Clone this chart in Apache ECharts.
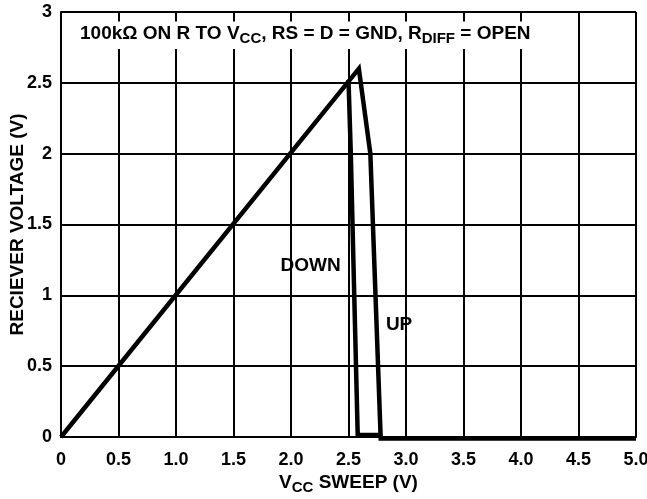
<!DOCTYPE html>
<html>
<head>
<meta charset="utf-8">
<script src="https://cdn.jsdelivr.net/npm/echarts@6/dist/echarts.min.js"></script>
<style>
html,body{margin:0;padding:0;background:#fff;}
#c{width:647px;height:499px;}
</style>
</head>
<body>
<div id="c"></div>
<script>
// Data
var upSeries = [[0, 0], [2.59, 2.6], [2.69, 2.0], [2.78, -0.01], [5.0, -0.01]];
var downSeries = [[2.5, 2.52], [2.52, 2.0], [2.55, 1.0], [2.58, 0.015], [2.78, 0.015]];
var xTickLabels = ['0', '0.5', '1.0', '1.5', '2.0', '2.5', '3.0', '3.5', '4.0', '4.5', '5.0'];
var yTickLabels = ['0', '0.5', '1', '1.5', '2', '2.5', '3'];
var annotations = [
  { text: 'DOWN', at: [2.17, 1.21] },
  { text: 'UP', at: [2.94, 0.79] }
];

var FONT = 'Liberation Sans, Arial, Helvetica, sans-serif';
var chart = echarts.init(document.getElementById('c'), null, { renderer: 'canvas' });

var lineStyle = { color: '#000', width: 4.5, join: 'miter', cap: 'butt' };

chart.setOption({
  animation: false,
  backgroundColor: '#fff',
  title: {
    left: 75,
    top: 19,
    padding: [3, 5, 3, 5],
    backgroundColor: '#fff',
    text: '{a|100kΩ ON R TO V}{s|CC}{a|, RS = D = GND, R}{s|DIFF}{a| = OPEN}',
    textStyle: {
      rich: {
        a: { fontFamily: FONT, fontWeight: 'bold', fontSize: 19, color: '#000' },
        s: { fontFamily: FONT, fontWeight: 'bold', fontSize: 15, color: '#000', padding: [9, 0, 0, 0] }
      }
    }
  },
  grid: { left: 61, right: 11, top: 12, bottom: 62, containLabel: false, outerBoundsMode: 'none' },
  xAxis: {
    type: 'value',
    min: 0, max: 5, interval: 0.5,
    name: '{a|V}{s|CC}{a| SWEEP (V)}',
    nameLocation: 'middle',
    nameGap: 34,
    nameMoveOverlap: false,
    nameTextStyle: {
      rich: {
        a: { fontFamily: FONT, fontWeight: 'bold', fontSize: 19, color: '#000' },
        s: { fontFamily: FONT, fontWeight: 'bold', fontSize: 15, color: '#000', padding: [9, 0, 0, 0] }
      }
    },
    axisLine: { show: true, lineStyle: { color: '#000', width: 2 } },
    axisTick: { show: false },
    splitLine: { show: true, lineStyle: { color: '#000', width: 2 } },
    axisLabel: {
      margin: 14,
      color: '#000', fontFamily: FONT, fontWeight: 'bold', fontSize: 18,
      formatter: function (v, i) { return xTickLabels[i]; }
    }
  },
  yAxis: {
    type: 'value',
    min: 0, max: 3, interval: 0.5,
    name: 'RECIEVER VOLTAGE (V)',
    nameLocation: 'middle',
    nameGap: 34,
    nameMoveOverlap: false,
    nameTextStyle: { fontFamily: FONT, fontWeight: 'bold', fontSize: 19, color: '#000' },
    axisLine: { show: true, lineStyle: { color: '#000', width: 2 } },
    axisTick: { show: false },
    splitLine: { show: true, lineStyle: { color: '#000', width: 2 } },
    axisLabel: {
      margin: 9,
      color: '#000', fontFamily: FONT, fontWeight: 'bold', fontSize: 18,
      formatter: function (v, i) { return yTickLabels[i]; }
    }
  },
  series: [
    { type: 'line', name: 'UP', data: upSeries, symbol: 'none', clip: false, lineStyle: lineStyle, z: 5 },
    { type: 'line', name: 'DOWN', data: downSeries, symbol: 'none', clip: false, lineStyle: lineStyle, z: 5 }
  ]
});

var g = annotations.map(function (a) {
  var p = chart.convertToPixel({ gridIndex: 0 }, a.at);
  return {
    type: 'text', x: p[0], y: p[1], z: 10,
    style: { text: a.text, fill: '#000', font: 'bold 19px ' + FONT, textAlign: 'center', textVerticalAlign: 'middle' }
  };
});
chart.setOption({ graphic: g });
</script>
</body>
</html>
